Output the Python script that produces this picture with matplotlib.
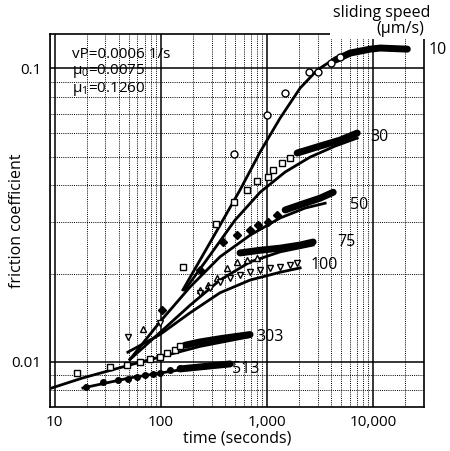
import matplotlib
matplotlib.use('Agg')
import matplotlib.pyplot as plt
from matplotlib.patches import Rectangle
from matplotlib.ticker import NullFormatter, LogLocator

plt.rcParams['font.family'] = ['Open Sans', 'DejaVu Sans']
plt.rcParams['mathtext.default'] = 'regular'

# speed 10 um/s
t10_fit = [161, 233, 360, 556, 859, 1327, 2047, 2966, 4385, 7538]
mu10_fit = [0.0176, 0.0222, 0.0292, 0.0385, 0.0518, 0.0676, 0.0855, 0.0985, 0.108, 0.1133]
t10_pts = [489, 1000, 1479, 2489, 3027, 4018, 4887]
mu10_pts = [0.0509, 0.0692, 0.0822, 0.0969, 0.0969, 0.104, 0.109]
t10_run = [4385, 6067, 9375, 11650, 20940]
mu10_run = [0.1065, 0.1125, 0.116, 0.117, 0.116]

# speed 30
t30_fit = [168, 290, 499, 859, 1479, 2545, 4385, 7063]
mu30_fit = [0.0176, 0.0231, 0.0304, 0.0378, 0.0443, 0.0498, 0.0543, 0.0578]
t30_pts = [161, 330, 489, 647, 805, 1021, 1140, 1386, 1649]
mu30_pts = [0.0211, 0.0295, 0.0350, 0.0385, 0.0413, 0.0426, 0.0450, 0.0475, 0.0494]
t30_run = [1919, 3162, 4887, 7063]
mu30_run = [0.0514, 0.0543, 0.0569, 0.0601]

# speed 50
t50_fit = [51.0, 97.9, 188, 360, 691, 1327, 2281, 3524]
mu50_fit = [0.0102, 0.0137, 0.0180, 0.0228, 0.0270, 0.0309, 0.0334, 0.0347]
t50_pts = [102, 233, 384, 521, 691, 822, 1021, 1242]
mu50_pts = [0.0150, 0.0206, 0.0256, 0.0270, 0.0281, 0.0292, 0.0299, 0.0316]
t50_run = [1479, 2281, 3162, 4197]
mu50_run = [0.0329, 0.0347, 0.0361, 0.0378]

# speed 75
t75_fit = [51.0, 97.9, 188, 360, 691, 1327, 2716]
mu75_fit = [0.0102, 0.0126, 0.0156, 0.0190, 0.0219, 0.0237, 0.0250]
t75_pts = [67.6, 233, 277, 337, 420, 521, 647, 805]
mu75_pts = [0.0129, 0.0176, 0.0183, 0.0193, 0.0209, 0.0219, 0.0222, 0.0226]
t75_run = [556, 859, 1327, 2047, 2716]
mu75_run = [0.0235, 0.0240, 0.0244, 0.0250, 0.0256]

# speed 100
t100_fit = [48.8, 97.9, 188, 360, 691, 1327, 2047]
mu100_fit = [0.0108, 0.0124, 0.0147, 0.0172, 0.0190, 0.0202, 0.0209]
t100_pts = [48.8, 97.9, 233, 290, 360, 448, 556, 691, 859, 1067, 1327, 1649, 1919]
mu100_pts = [0.0122, 0.0136, 0.0172, 0.0179, 0.0187, 0.0193, 0.0198, 0.0202,
             0.0206, 0.0209, 0.0211, 0.0214, 0.0217]

# speed 303
t303_fit = [9.37, 18.4, 51.0, 97.9, 233, 691]
mu303_fit = [0.00816, 0.00883, 0.00977, 0.0104, 0.0113, 0.0122]
t303_pts = [16.1, 33.0, 47.7, 63.4, 78.7, 97.9, 114, 136, 151]
mu303_pts = [0.00918, 0.00962, 0.00977, 0.0100, 0.0102, 0.0104, 0.0107, 0.0110, 0.0113]
t303_run = [168, 233, 360, 691]
mu303_run = [0.0114, 0.0117, 0.0120, 0.0124]

# speed 513
t513_fit = [18.4, 51.0, 151, 402]
mu513_fit = [0.00816, 0.00883, 0.00940, 0.00977]
t513_pts = [19.6, 28.4, 39.3, 48.8, 59.5, 70.6, 84.1, 97.9, 122, 151]
mu513_pts = [0.00822, 0.00855, 0.00869, 0.00876, 0.00890, 0.00904, 0.00911,
             0.00918, 0.00940, 0.00954]
t513_run = [151, 233, 448]
mu513_run = [0.00947, 0.00962, 0.00985]

speed_labels = ['10', '30', '50', '75', '100', '303', '513']
label_t = [33000, 9375, 6067, 4571, 2545, 787, 468]
label_mu = [0.115, 0.0582, 0.0342, 0.0256, 0.0214, 0.0122, 0.00947]

fig = plt.figure(figsize=(4.5, 4.51), dpi=100)
ax = fig.add_axes([0.111, 0.0976, 0.831, 0.827])
ax.set_xscale('log')
ax.set_yscale('log')
ax.set_xlim(9.0, 30000)
ax.set_ylim(0.00703, 0.1306)

ax.set_axisbelow(True)
ax.xaxis.set_minor_locator(LogLocator(base=10, subs=range(2, 10)))
ax.yaxis.set_minor_locator(LogLocator(base=10, subs=range(2, 10)))
ax.grid(which='minor', color='k', lw=0.7, ls=(0, (1, 1.2)))
ax.grid(which='major', color='k', lw=1.1, ls='-')

ax.set_xticks([10, 100, 1000, 10000])
ax.set_xticklabels(['10', '100', '1,000', '10,000'])
ax.set_yticks([0.01, 0.1])
ax.set_yticklabels(['0.01', '0.1'])
ax.xaxis.set_minor_formatter(NullFormatter())
ax.yaxis.set_minor_formatter(NullFormatter())
ax.tick_params(which='both', length=0, labelsize=11, pad=6)
for s in ax.spines.values():
    s.set_linewidth(1.2)

fit_kw = dict(color='k', lw=2.0, zorder=3)
run_kw = dict(color='k', lw=5, solid_capstyle='round', zorder=4)
open_kw = dict(ls='none', mfc='white', mec='k', mew=1.0, ms=5, zorder=5)

# fitted model curves
ax.plot(t10_fit, mu10_fit, **fit_kw)
ax.plot(t30_fit, mu30_fit, **fit_kw)
ax.plot(t50_fit, mu50_fit, **fit_kw)
ax.plot(t75_fit, mu75_fit, **fit_kw)
ax.plot(t100_fit, mu100_fit, **fit_kw)
ax.plot(t303_fit, mu303_fit, **fit_kw)
ax.plot(t513_fit, mu513_fit, **fit_kw)

# dense measurements
ax.plot(t10_run, mu10_run, **run_kw)
ax.plot(t30_run, mu30_run, **run_kw)
ax.plot(t50_run, mu50_run, **run_kw)
ax.plot(t75_run, mu75_run, **run_kw)
ax.plot(t303_run, mu303_run, **run_kw)
ax.plot(t513_run, mu513_run, **run_kw)

# sparse measurements
ax.plot(t10_pts, mu10_pts, marker='o', **open_kw)
ax.plot(t30_pts, mu30_pts, marker='s', **open_kw)
ax.plot(t50_pts, mu50_pts, marker='D', ls='none', color='k', ms=4, zorder=5)
ax.plot(t75_pts, mu75_pts, marker='^', **open_kw)
ax.plot(t100_pts, mu100_pts, marker='v', **open_kw)
ax.plot(t303_pts, mu303_pts, marker='s', **open_kw)
ax.plot(t513_pts, mu513_pts, marker='o', ls='none', color='k', ms=4, zorder=5)

for lab, tx, my in zip(speed_labels, label_t, label_mu):
    ax.text(tx, my, lab, fontsize=11.5, ha='left', va='center', clip_on=False, zorder=7)

ax.text(0.06, 0.965, 'vP=0.0006 1/s\nμ$_0$=0.0075\nμ$_1$=0.1260',
        transform=ax.transAxes, fontsize=11, va='top', ha='left',
        linespacing=1.0, zorder=7)

ax.set_xlabel('time (seconds)', fontsize=11.5)
ax.set_ylabel('friction coefficient', fontsize=11.5)
ax.xaxis.set_label_coords(0.5, -0.062)
ax.yaxis.set_label_coords(-0.068, 0.5)

# blank out the top-right corner of the frame behind the header
ax.add_patch(Rectangle((330 / 450, 1 - 39 / 451), 97 / 450, 21 / 451,
                       transform=fig.transFigure, facecolor='white',
                       edgecolor='none', clip_on=False, zorder=6))
fig.text(382 / 450, 1 - 13 / 451, 'sliding speed', fontsize=11.5,
         ha='center', va='center')
fig.text(424 / 450, 1 - 29 / 451, '(μm/s)', fontsize=11.5,
         ha='right', va='center')

fig.savefig('out.png', dpi=100)
